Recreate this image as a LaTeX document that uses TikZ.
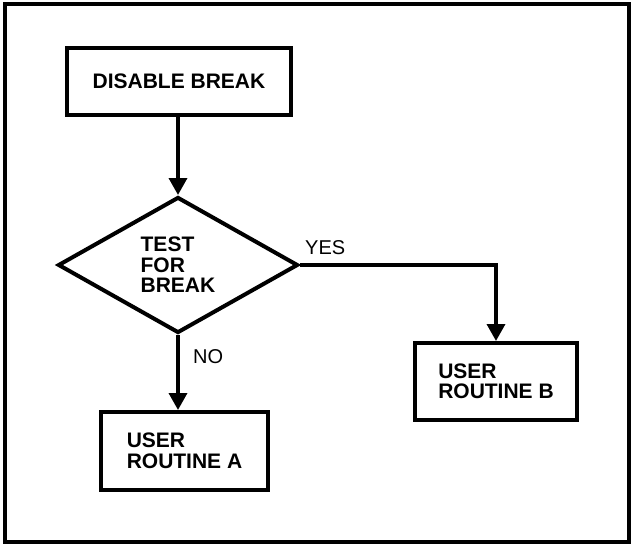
\documentclass[tikz,border=0pt]{standalone}
\usepackage{fontspec}
\setmainfont{Liberation Sans}
\usetikzlibrary{shapes.geometric,arrows.meta}
\begin{document}
\begin{tikzpicture}[x=1pt,y=-1pt,
    box/.style={draw,line width=4pt,inner sep=0pt,align=left,
        font=\bfseries\fontsize{21}{20.5}\selectfont},
    decision/.style={diamond,draw,line width=4pt,inner sep=0pt,align=left,
        aspect=1.76,minimum width=240pt,minimum height=136pt,
        font=\bfseries\fontsize{21}{20.5}\selectfont},
    flow/.style={line width=3.5pt,-{Triangle[length=17pt,width=18pt]}},
    answer/.style={font=\fontsize{20}{20.5}\selectfont,inner sep=0pt}]
\useasboundingbox (0,0) rectangle (633,546);
\draw[line width=4pt] (5,4) rectangle (629,542);
\node[box,minimum width=224pt,minimum height=67pt] (disable) at (179,81.5) {DISABLE BREAK};
\node[decision] (test) at (178,265) {TEST\\FOR\\BREAK};
\node[box,minimum width=167pt,minimum height=78pt] (routineA) at (184.5,451) {USER\\ROUTINE A};
\node[box,minimum width=162pt,minimum height=77pt] (routineB) at (496,381.5) {USER\\ROUTINE B};
\node[answer,anchor=south west] (yes) at (305,255) {YES};
\node[answer,anchor=west] (no) at (193,357) {NO};
\draw[flow] (disable.south -| test.north) -- (test.north);
\draw[flow] (test.south) -- (test.south |- routineA.north);
\draw[flow] (test.east) -| (routineB.north);
\end{tikzpicture}
\end{document}
